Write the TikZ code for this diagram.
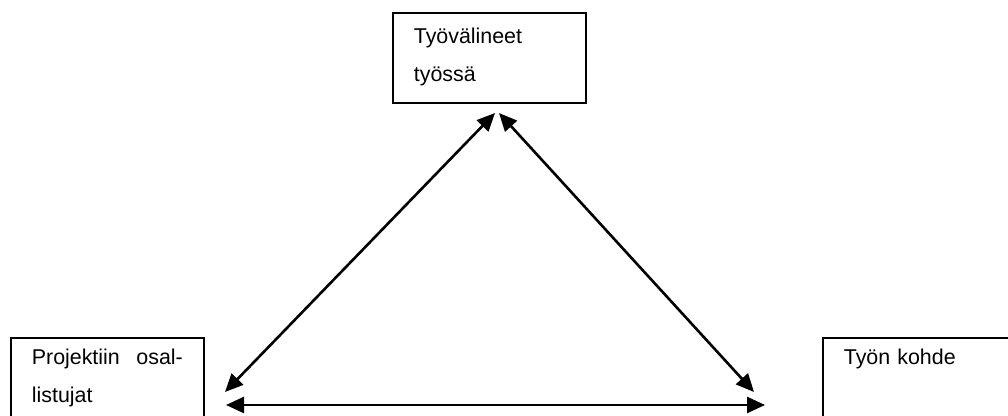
\documentclass[tikz,border=0pt]{standalone}
\usepackage{fontspec}
\setmainfont{Liberation Sans}
\usetikzlibrary{arrows.meta}

\begin{document}
\begin{tikzpicture}[x=0.5pt,y=-0.5pt,
    box/.style={draw, line width=0.85pt, anchor=north west, text width=75.5pt, align=left,
      inner xsep=10.5pt, inner ysep=7.5pt, font=\fontsize{10.7}{19}\selectfont},
    link/.style={{Triangle[length=9pt,width=8pt]}-{Triangle[length=9pt,width=8pt]}, line width=1.3pt}]
    \useasboundingbox (0,0) rectangle (1008,416);
    \clip (0,0) rectangle (1008,416);
    \node[box, text height=8pt, text depth=22pt] (tools) at (392,12) {Työvälineet\\työssä};
    \node[box, text height=6pt, text depth=40pt] (members) at (10,337) {Projektiin\hfill osal-\\listujat};
    \node[box, text height=6pt, text depth=40pt] (object) at (822,337) {Työn kohde};
    \coordinate (toolsL) at (495,113);
    \coordinate (toolsR) at (499,113);
    \coordinate (membersT) at (225,392);
    \coordinate (membersB) at (226,405);
    \coordinate (objectT) at (754,392);
    \coordinate (objectB) at (765,405);
    \draw[link] (membersT) -- (toolsL);
    \draw[link] (toolsR) -- (objectT);
    \draw[link] (membersB) -- (objectB);
\end{tikzpicture}
\end{document}
